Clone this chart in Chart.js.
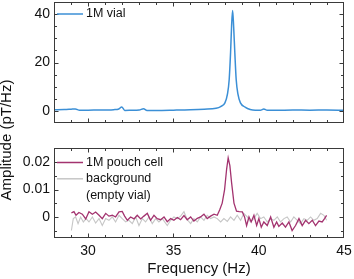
<!DOCTYPE html>
<html>
<head>
<meta charset="utf-8">
<script src="https://cdn.jsdelivr.net/npm/chart.js@4"></script>
<style>
  body { margin: 0; background: #fff; }
  #wrap { position: relative; width: 354px; height: 279px; overflow: hidden; font-family: 'Liberation Sans', Arial, sans-serif; }
  canvas { position: absolute; left: 0; }
  #ytitle {
    position: absolute; left: -94.5px; top: 131px; width: 200px; height: 18px; line-height: 18px;
    text-align: center; font-size: 15px; color: #111; transform: rotate(-90deg);
  }
</style>
</head>
<body>
<div id="wrap">
  <canvas id="topChart" width="354" height="125" style="top:0"></canvas>
  <canvas id="bottomChart" width="354" height="139" style="top:140px"></canvas>
  <div id="ytitle">Amplitude (pT/Hz)</div>
</div>
<script>
// 1M vial spectrum (top panel)
const vialFreq = [28.0, 28.6, 29.0, 29.25, 29.5, 30.0, 30.5, 31.0, 31.5, 31.8, 31.97, 32.15, 32.5, 33.0, 33.25, 33.45,
  34.0, 35.0, 36.0, 36.8, 37.5, 37.77, 38.02, 38.17, 38.27, 38.35, 38.41, 38.47, 38.53, 38.6, 38.68, 38.78, 38.93,
  39.2, 39.5, 39.8, 40.1, 40.3, 40.5, 41.0, 42.0, 43.0, 44.0, 45.0];
const vialAmp = [0.5, 0.55, 0.7, 0.8, 0.3, 0.3, 0.35, 0.4, 0.5, 0.8, 1.6, 0.2, 0.25, 0.4, 0.9, 0.2,
  0.2, 0.3, 0.45, 0.7, 1.1, 1.8, 3.3, 7, 13, 24, 35, 41.5, 35, 24, 13, 7, 3.3,
  1.6, 0.6, 0.3, 0.3, 0.8, 0.3, 0.25, 0.35, 0.3, 0.35, 0.25];

// 1M pouch cell spectrum (bottom panel)
const pouchFreq = [29.02, 29.17, 29.29, 29.46, 29.66, 29.86, 30.05, 30.25, 30.44, 30.64, 30.83, 31.03, 31.22, 31.42,
  31.61, 31.81, 32.00, 32.14, 32.30, 32.49, 32.69, 32.88, 33.08, 33.27, 33.47, 33.66, 33.86, 34.05, 34.25, 34.45,
  34.64, 34.84, 35.03, 35.23, 35.42, 35.62, 35.81, 36.01, 36.20, 36.40, 36.59, 36.79, 36.98, 37.18, 37.38, 37.57,
  37.71, 37.86, 38.00, 38.12, 38.21, 38.31, 38.41, 38.55, 38.70, 38.86, 39.04, 39.17, 39.29, 39.43, 39.56, 39.72,
  39.88, 40.01, 40.15, 40.30, 40.50, 40.70, 40.89, 41.05, 41.18, 41.38, 41.57, 41.77, 41.96, 42.16, 42.36, 42.55,
  42.75, 42.94, 43.14, 43.33, 43.53, 43.72, 43.86, 43.98];
const pouchAmp = [0.0016, 0.0020, 0.0007, 0.0017, 0.0011, -0.0006, 0.0020, 0.0011, 0.0019, 0.0007, -0.0005, 0.0014,
  0.0004, 0.0007, 0.0001, 0.0019, 0.0021, 0.0004, -0.0011, 0.0001, -0.0006, 0.0007, -0.0006, 0.0004, 0.0014,
  -0.0011, 0.0007, -0.0005, -0.0009, 0.0001, -0.0016, -0.0005, -0.0011, -0.0001, -0.0009, 0.0006, -0.0009,
  0.0001, -0.0014, -0.0004, 0.0001, 0.0011, -0.0005, 0.0004, 0.0011, 0.0007, 0.0026, 0.0051, 0.0100, 0.0174,
  0.0214, 0.0186, 0.0125, 0.0051, 0.0022, 0.0020, 0.0019, 0.0001, -0.0030, 0.0001, -0.0017, 0.0007, -0.0030,
  -0.0005, -0.0036, -0.0017, -0.0030, 0.0001, -0.0036, -0.0017, -0.0033, -0.0021, -0.0036, -0.0017, -0.0048,
  -0.0030, -0.0005, -0.0030, -0.0011, -0.0023, -0.0011, -0.0030, -0.0014, -0.0017, -0.0005, 0.0007];

// background (empty vial)
const bgFreq = [29.02, 29.13, 29.27, 29.41, 29.56, 29.72, 29.88, 30.05, 30.25, 30.44, 30.64, 30.83, 31.03, 31.22,
  31.42, 31.61, 31.81, 32.00, 32.20, 32.39, 32.59, 32.79, 32.98, 33.18, 33.37, 33.57, 33.76, 33.96, 34.15, 34.35,
  34.64, 34.84, 35.03, 35.23, 35.42, 35.62, 35.81, 36.01, 36.20, 36.40, 36.59, 36.79, 36.98, 37.18, 37.38, 37.57,
  37.77, 37.96, 38.16, 38.35, 38.55, 38.74, 38.94, 39.13, 39.33, 39.52, 39.72, 39.91, 40.11, 40.30, 40.50, 40.70,
  40.89, 41.09, 41.28, 41.48, 41.67, 41.87, 42.06, 42.26, 42.45, 42.65, 42.84, 43.04, 43.23, 43.43, 43.63, 43.82, 43.98];
const bgAmp = [-0.0048, -0.0005, 0.0001, -0.0023, 0.0001, -0.0017, -0.0005, -0.0017, 0.0001, -0.0021, -0.0005,
  -0.0030, -0.0005, -0.0011, 0.0001, -0.0017, 0.0007, -0.0005, -0.0017, -0.0011, -0.0023, 0.0001, -0.0030,
  -0.0005, -0.0017, 0.0001, -0.0023, -0.0005, -0.0017, -0.0005, -0.0030, -0.0011, 0.0001, -0.0005, 0.0004,
  0.0020, -0.0009, -0.0023, -0.0005, -0.0017, 0.0001, -0.0011, 0.0007, -0.0005, 0.0001, -0.0005, -0.0017,
  -0.0005, -0.0015, 0.0001, -0.0011, 0.0007, -0.0011, 0.0014, 0.0001, -0.0017, -0.0005, 0.0014, -0.0005,
  0.0001, -0.0017, -0.0005, -0.0011, 0.0001, -0.0017, -0.0005, 0.0001, -0.0017, 0.0001, -0.0011, -0.0023,
  -0.0005, -0.0011, 0.0001, -0.0011, -0.0005, 0.0014, 0.0007, -0.0011];

const xTicks = [30, 35, 40, 45];
const topYTicks = [0, 20, 40];
const bottomYTicks = [0, 0.01, 0.02];

const FONT = "'Liberation Sans', Arial, sans-serif";
const AXIS = '#3a3a3a';

const toPoints = (xs, ys) => xs.map((x, i) => ({ x: x, y: ys[i] }));

// box frame with inward major/minor ticks on all four sides
const boxTicks = {
  id: 'boxTicks',
  afterDatasetsDraw(chart, args, opts) {
    const { ctx, chartArea: a, scales: { x, y } } = chart;
    const L = a.left + 0.5, R = a.right - 0.5, T = a.top + 0.5, B = a.bottom - 0.5;
    ctx.save();
    ctx.strokeStyle = AXIS;
    ctx.lineWidth = 1;
    ctx.beginPath();
    for (let v = Math.ceil(x.min); v <= x.max; v += 1) {
      const px = Math.round(x.getPixelForValue(v)) + 0.5;
      if (px <= L + 1 || px >= R - 1) continue;
      const len = xTicks.includes(v) ? 4 : 2.5;
      ctx.moveTo(px, B); ctx.lineTo(px, B - len);
      ctx.moveTo(px, T); ctx.lineTo(px, T + len);
    }
    const step = opts.yMinor;
    const k0 = Math.ceil(y.min / step - 1e-6);
    const k1 = Math.floor(y.max / step + 1e-6);
    for (let k = k0; k <= k1; k++) {
      const v = k * step;
      const py = Math.round(y.getPixelForValue(v)) + 0.5;
      if (py <= T + 1 || py >= B - 1) continue;
      const major = opts.yMajor.some(t => Math.abs(t - v) < step / 10);
      const len = major ? 4 : 2.5;
      ctx.moveTo(L, py); ctx.lineTo(L + len, py);
      ctx.moveTo(R, py); ctx.lineTo(R - len, py);
    }
    ctx.stroke();
    ctx.strokeRect(L, T, R - L, B - T);
    ctx.restore();
  }
};

// legend drawn inside the plot area, upper left
const innerLegend = {
  id: 'innerLegend',
  afterDraw(chart, args, opts) {
    const { ctx, chartArea: a } = chart;
    ctx.save();
    ctx.font = '12.5px ' + FONT;
    ctx.textBaseline = 'middle';
    ctx.fillStyle = '#111';
    let yy = a.top + opts.top;
    opts.items.forEach(item => {
      ctx.strokeStyle = item.color;
      ctx.lineWidth = item.width;
      ctx.beginPath();
      ctx.moveTo(a.left + 3, yy); ctx.lineTo(a.left + 29, yy);
      ctx.stroke();
      item.lines.forEach(t => {
        ctx.fillText(t, a.left + 32, yy);
        yy += 16.3;
      });
    });
    ctx.restore();
  }
};

function xScale(showLabels) {
  return {
    type: 'linear', min: 28, max: 45,
    afterBuildTicks: s => { s.ticks = xTicks.map(v => ({ value: v })); },
    afterFit: s => {
      s.height = showLabels ? 41 : 2;
      s.paddingLeft = 0; s.paddingRight = 0;
    },
    grid: { display: false, drawTicks: false },
    border: { display: false },
    ticks: { display: showLabels, padding: 5, color: '#111', font: { family: FONT, size: 14 }, maxRotation: 0 },
    title: {
      display: showLabels, text: 'Frequency (Hz)', color: '#111',
      font: { family: FONT, size: 15 }, padding: { top: 1, bottom: 1 }
    }
  };
}

function yScale(min, max, ticks, fmt) {
  return {
    type: 'linear', min: min, max: max,
    afterBuildTicks: s => { s.ticks = ticks.map(v => ({ value: v })); },
    afterFit: s => {
      s.width = 54;
      s.paddingTop = 0; s.paddingBottom = 0;
    },
    grid: { display: false, drawTicks: false },
    border: { display: false },
    ticks: { padding: 4, color: '#111', font: { family: FONT, size: 14 }, callback: fmt }
  };
}

new Chart(document.getElementById('topChart'), {
  type: 'line',
  data: {
    datasets: [{
      label: '1M vial',
      data: toPoints(vialFreq, vialAmp),
      borderColor: '#3b8fd6',
      borderWidth: 1.5,
      pointRadius: 0,
      cubicInterpolationMode: 'monotone'
    }]
  },
  options: {
    responsive: false,
    animation: false,
    layout: { padding: { left: 0, right: 10, top: 2, bottom: 0 } },
    plugins: {
      legend: { display: false },
      tooltip: { enabled: false },
      boxTicks: { yMinor: 5, yMajor: topYTicks },
      innerLegend: { top: 12, items: [{ color: '#3b8fd6', width: 1.5, lines: ['1M vial'] }] }
    },
    scales: {
      x: xScale(false),
      y: yScale(-5, 45, topYTicks, v => String(v))
    }
  },
  plugins: [boxTicks, innerLegend]
});

new Chart(document.getElementById('bottomChart'), {
  type: 'line',
  data: {
    datasets: [{
      label: '1M pouch cell',
      data: toPoints(pouchFreq, pouchAmp),
      borderColor: '#a3336f',
      borderWidth: 1.3,
      pointRadius: 0,
      tension: 0
    }, {
      label: 'background (empty vial)',
      data: toPoints(bgFreq, bgAmp),
      borderColor: '#c6c6c6',
      borderWidth: 1.1,
      pointRadius: 0,
      tension: 0
    }]
  },
  options: {
    responsive: false,
    animation: false,
    layout: { padding: { left: 0, right: 10, top: 8, bottom: 0 } },
    plugins: {
      legend: { display: false },
      tooltip: { enabled: false },
      boxTicks: { yMinor: 0.005, yMajor: bottomYTicks },
      innerLegend: {
        top: 14.5,
        items: [
          { color: '#a3336f', width: 1.5, lines: ['1M pouch cell'] },
          { color: '#c6c6c6', width: 1.5, lines: ['background', '(empty vial)'] }
        ]
      }
    },
    scales: {
      x: xScale(true),
      y: yScale(-0.0075, 0.025, bottomYTicks, v => (v === 0 ? '0' : v.toFixed(2)))
    }
  },
  plugins: [boxTicks, innerLegend]
});
</script>
</body>
</html>
